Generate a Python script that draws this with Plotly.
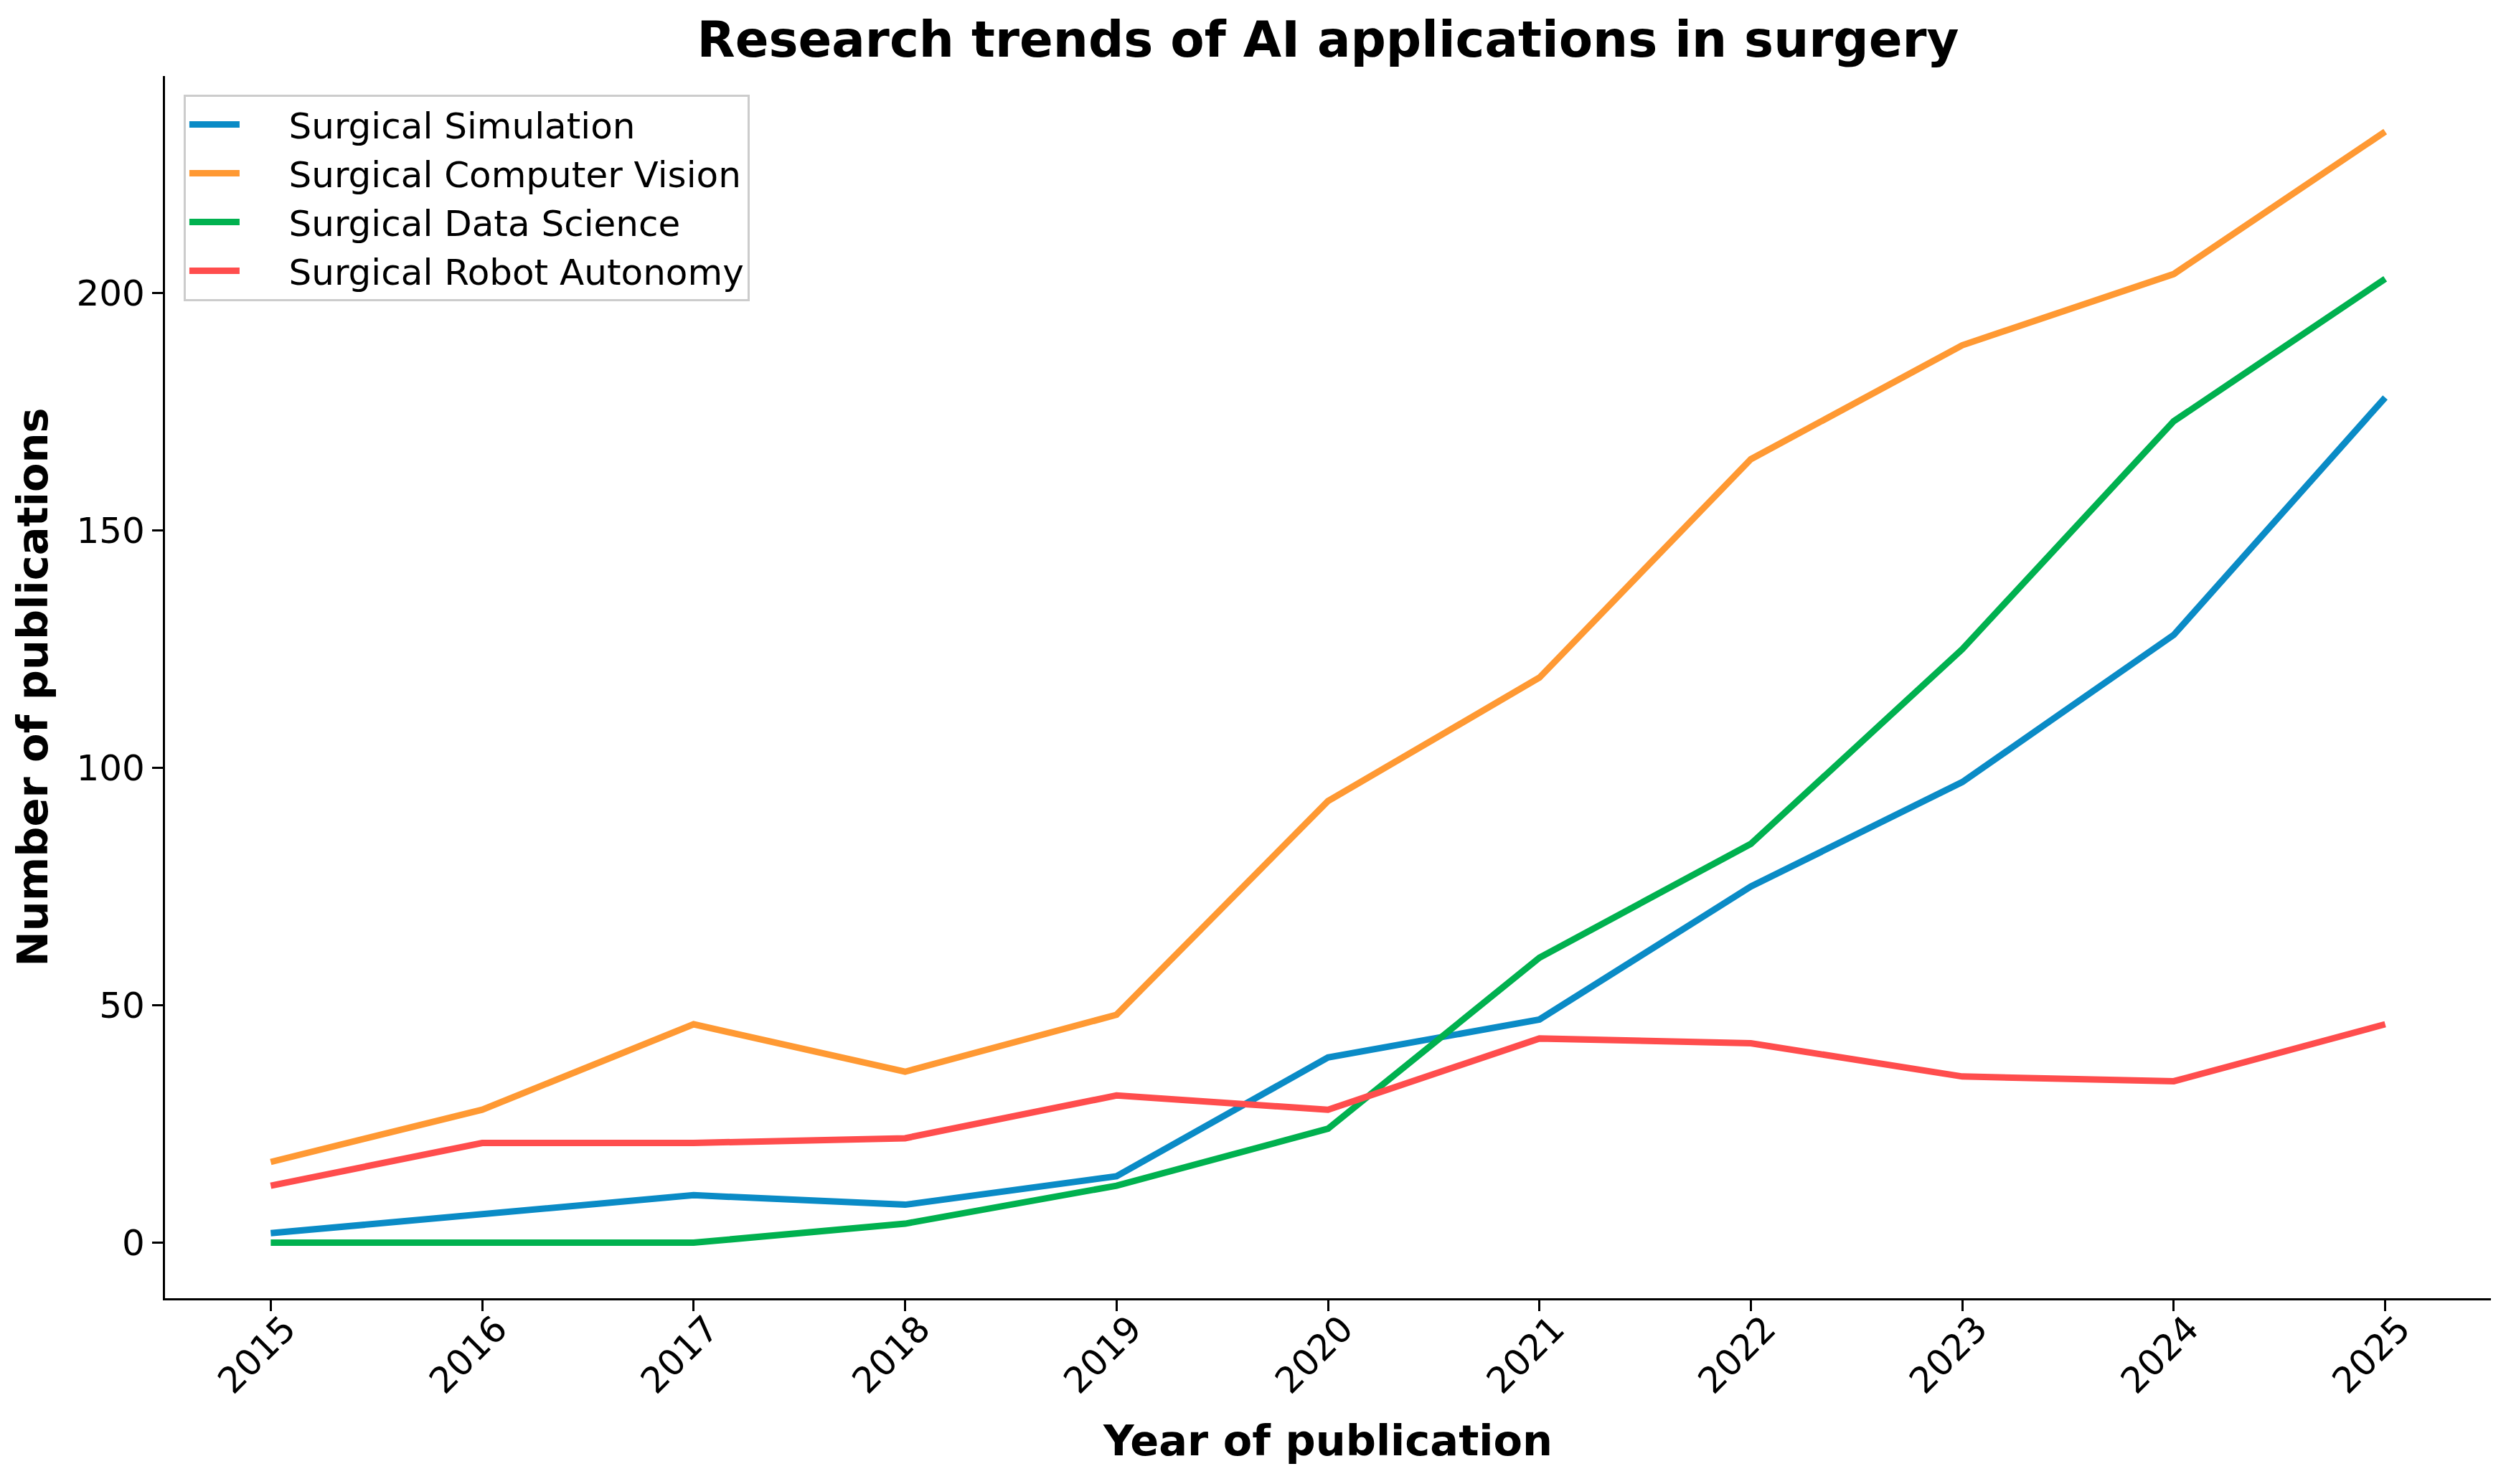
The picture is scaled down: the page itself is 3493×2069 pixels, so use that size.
import plotly.graph_objects as go

# Données
years = [2015, 2016, 2017, 2018, 2019, 2020, 2021, 2022, 2023, 2024, 2025]
simulation = [2, 6, 10, 8, 14, 39, 47, 75, 97, 128, 178]
computer_vision = [17, 28, 46, 36, 48, 93, 119, 165, 189, 204, 234]
data_science = [0, 0, 0, 4, 12, 24, 60, 84, 125, 173, 203]
robot_autonomy = [12, 21, 21, 22, 31, 28, 43, 42, 35, 34, 46]

series_names = ["Surgical Simulation", "Surgical Computer Vision",
                "Surgical Data Science", "Surgical Robot Autonomy"]
series_values = [simulation, computer_vision, data_science, robot_autonomy]
colors = ["#0a8bc6", "#ff9933", "#00b14f", "#ff4d4d"]

FONT = "DejaVu Sans"
PAD = "\u00a0" * 4  # espace entre le trait et le texte de la légende

fig = go.Figure()
for name, vals, col in zip(series_names, series_values, colors):
    fig.add_trace(go.Scatter(x=years, y=vals, mode="lines", name=PAD + name,
                             line=dict(color=col, width=9)))

fig.update_layout(
    width=3493, height=2069,
    margin=dict(l=222, r=29, t=98, b=267),
    paper_bgcolor="white", plot_bgcolor="white",
    font=dict(family=FONT, size=50, color="black"),
    title=dict(text="<b>Research trends of AI applications in surgery</b>",
               x=(222 + 3464) / 2 / 3493, xanchor="center",
               y=1 - 47 / 2069, yanchor="middle",
               font=dict(family=FONT, size=69, color="black")),
    legend=dict(x=0.008, y=0.985, xanchor="left", yanchor="top",
                bgcolor="rgba(255,255,255,0.8)", bordercolor="#cccccc",
                borderwidth=3, font=dict(family=FONT, size=50),
                itemwidth=70),
    showlegend=True,
)

fig.update_xaxes(
    range=[2014.5, 2025.5], tickmode="array", tickvals=years,
    ticktext=[str(y) for y in years], tickangle=-45,
    ticklabelshift=20, ticklabelstandoff=-25,
    showgrid=False, zeroline=False, automargin=False,
    showline=True, linecolor="black", linewidth=3.3,
    ticks="outside", ticklen=15, tickwidth=3.3, tickcolor="black",
    title=dict(text="<b>Year of publication</b>", standoff=35,
               font=dict(family=FONT, size=59)),
)
fig.update_yaxes(
    range=[-11.7, 245.7], tickvals=[0, 50, 100, 150, 200],
    showgrid=False, zeroline=False, automargin=False,
    showline=True, linecolor="black", linewidth=3.3,
    ticks="outside", ticklen=15, tickwidth=3.3, tickcolor="black",
    title=dict(text="<b>Number of publications</b>", standoff=21,
               font=dict(family=FONT, size=59)),
)

fig.write_html("out.html")
